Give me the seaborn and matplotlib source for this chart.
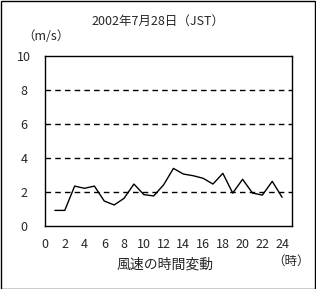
import matplotlib
matplotlib.use("Agg")
import matplotlib.pyplot as plt
import seaborn as sns
import pandas as pd

hours = list(range(1, 25))
wind = [0.90, 0.90, 2.33, 2.20, 2.33, 1.45, 1.22, 1.61, 2.45, 1.83, 1.75, 2.40,
        3.37, 3.04, 2.94, 2.79, 2.45, 3.08, 1.92, 2.73, 1.92, 1.80, 2.61, 1.67]
xticks = list(range(0, 25, 2))
yticks = [0, 2, 4, 6, 8, 10]
title = "2002年7月28日（JST）"
ylabel = "（m/s）"
xlabel = "風速の時間変動"
xunit = "（時）"

sns.set_theme(style="white")
plt.rcParams['font.family'] = ['Noto Sans CJK JP', 'DejaVu Sans']

W, H = 316, 289
fig = plt.figure(figsize=(W / 100, H / 100), dpi=100)
fig.patch.set_facecolor("white")
# figure border
fig.add_artist(plt.Rectangle((0.5 / W, 0.5 / H), 1 - 1.5 / W, 1 - 1.5 / H,
                             transform=fig.transFigure, fill=False,
                             edgecolor="black", linewidth=1.0))

left, right, top, bottom = 45, 292, 55.7, 225.7
ax = fig.add_axes([left / W, 1 - bottom / H, (right - left) / W, (bottom - top) / H])

df = pd.DataFrame({"hour": hours, "wind": wind})
sns.lineplot(data=df, x="hour", y="wind", ax=ax, color="black", linewidth=1.0)

ax.set_xlim(0, 25)
ax.set_ylim(0, 10)
ax.set_xticks(xticks)
ax.set_yticks(yticks)
ax.set_xticklabels([str(t) for t in xticks], fontsize=9)
ax.set_yticklabels([str(t) for t in yticks], fontsize=9)
ax.tick_params(axis="x", direction="in", length=4, width=1, color="black", pad=9)
ax.tick_params(axis="y", length=0, pad=15)
for lab in ax.get_yticklabels():
    lab.set_horizontalalignment("center")
ax.set_xlabel("")
ax.set_ylabel("")
for y in [2, 4, 6, 8]:
    ax.axhline(y, color="black", linestyle=(0, (4, 3)), linewidth=1.0)
for s in ax.spines.values():
    s.set_color("black")
    s.set_linewidth(1.0)

fig.text(158 / W, 1 - 21 / H, title, ha="center", va="center", fontsize=9)
fig.text(46 / W, 1 - 36 / H, ylabel, ha="center", va="center", fontsize=9)
fig.text(165 / W, 1 - 265 / H, xlabel, ha="center", va="center", fontsize=10)
fig.text(291 / W, 1 - 261 / H, xunit, ha="center", va="center", fontsize=9)

fig.savefig("out.png", dpi=100, facecolor="white")
